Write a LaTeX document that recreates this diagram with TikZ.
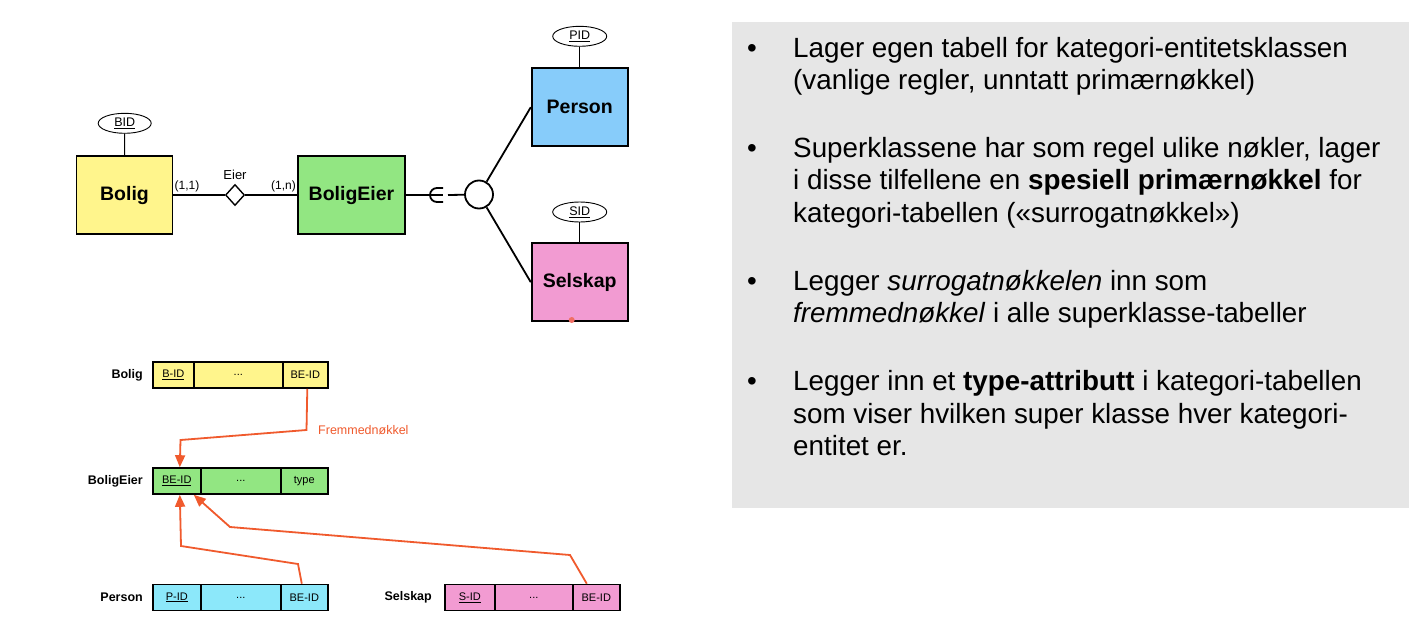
\documentclass[tikz,border=0pt]{standalone}
\usepackage{fontspec}
\setmainfont{Liberation Sans}
\usetikzlibrary{shapes.geometric,arrows.meta}
\definecolor{boligY}{RGB}{255,245,140}
\definecolor{eierG}{RGB}{146,230,130}
\definecolor{persB}{RGB}{135,204,250}
\definecolor{selP}{RGB}{242,155,210}
\definecolor{persC}{RGB}{140,232,250}
\definecolor{fkO}{RGB}{240,90,45}
\definecolor{panelG}{RGB}{230,230,230}
\definecolor{dotR}{RGB}{240,110,100}
\newcommand{\myfs}[1]{\fontsize{#1}{#1}\selectfont}
\begin{document}
\begin{tikzpicture}[x=1pt,y=-1pt,
  ent/.style={draw,line width=1.8pt,minimum width=96pt,minimum height=78pt,inner sep=0pt,font=\myfs{19.5}\bfseries},
  attr/.style={ellipse,draw,line width=0.9pt,minimum width=53pt,minimum height=20pt,inner sep=0pt,font=\myfs{12.5}},
  cell/.style={draw,line width=1.6pt,minimum height=26pt,inner sep=0pt,anchor=west,font=\myfs{11}},
  tlabel/.style={anchor=east,inner sep=0pt,font=\myfs{12.5}\bfseries},
  card/.style={inner sep=0pt,font=\myfs{12}},
  fk/.style={draw=fkO,line width=1.8pt,-{Triangle[length=12pt,width=10pt]}},
  lnk/.style={line width=1.8pt},
  thin/.style={line width=0.9pt},
  btxt/.style={anchor=base west,inner sep=0pt,font=\myfs{27.8}},
  bul/.style={anchor=base,inner sep=0pt,font=\myfs{27.8}},
]
\useasboundingbox (0,0) rectangle (1418,637);
\fill[white] (0,0) rectangle (1418,637);

% ---------- ER diagram ----------
\node[ent,fill=boligY] (bolig) at (124.5,195) {Bolig};
\node[ent,fill=eierG,minimum width=107pt] (eier) at (351.5,195) {BoligEier};
\node[ent,fill=persB] (person) at (579.7,107.2) {Person};
\node[ent,fill=selP] (selskap) at (579.7,282.2) {Selskap};

\node[attr] (bid) at (124.7,123.3) {\underline{BID}};
\node[attr,minimum width=54pt] (pid) at (579.7,36.3) {\underline{PID}};
\node[attr,minimum width=54pt] (sid) at (579.7,212) {\underline{SID}};
\draw[thin] (bid) -- (bolig);
\draw[thin] (pid) -- (person);
\draw[thin] (sid) -- (selskap);

\node[diamond,draw,line width=1.4pt,fill=white,minimum width=19pt,minimum height=21pt,inner sep=0pt] (rel) at (235,195) {};
\node[card,font=\myfs{13}] (eierlab) at (235,175) {Eier};
\node[card,anchor=south west] (c11) at (174.5,192) {(1,1)};
\node[card,anchor=south east] (c1n) at (296,192) {(1,n)};
\draw[lnk] (bolig) -- (rel);
\draw[lnk] (rel) -- (eier);

\coordinate (epsL) at (443,195);
\coordinate (epsR) at (448,195);
\node[circle,draw,line width=1.8pt,fill=white,minimum size=28pt,inner sep=0pt] (circ) at (479,194.5) {};
\draw[lnk] (eier.east) -- (epsL);
\draw[lnk] (epsR) -- (circ);
\draw[line width=1.8pt] (443,188) -- (437,188) arc[start angle=-90,end angle=-270,radius=7] -- (443,202);
\draw[lnk] (circ) -- (person.west);
\draw[lnk] (circ) -- (selskap.west);
\fill[dotR] (571.7,320) circle[radius=3];

% ---------- Tables ----------
\node[tlabel] (tbolig) at (143,375) {Bolig};
\node[cell,fill=boligY,minimum width=41pt] (bbid) at (152,375) {\underline{B-ID}};
\node[cell,fill=boligY,minimum width=89pt] (bdots) at (193,375) {...};
\node[cell,fill=boligY,minimum width=45pt] (bbeid) at (282,375) {BE-ID};

\node[tlabel] (teier) at (143,481) {BoligEier};
\node[cell,fill=eierG,minimum width=48pt] (ebeid) at (152,481) {\underline{BE-ID}};
\node[cell,fill=eierG,minimum width=80pt] (edots) at (200,481) {...};
\node[cell,fill=eierG,minimum width=47pt] (etype) at (280,481) {type};

\node[tlabel] (tperson) at (143,597.5) {Person};
\node[cell,fill=persC,minimum width=48pt] (ppid) at (152,597.5) {\underline{P-ID}};
\node[cell,fill=persC,minimum width=80pt] (pdots) at (200,597.5) {...};
\node[cell,fill=persC,minimum width=47pt] (pbeid) at (280,597.5) {BE-ID};

\node[tlabel] (tsel) at (432,597.5) {Selskap};
\node[cell,fill=selP,minimum width=50pt] (ssid) at (444,597.5) {\underline{S-ID}};
\node[cell,fill=selP,minimum width=78pt] (sdots) at (494,597.5) {...};
\node[cell,fill=selP,minimum width=47pt] (sbeid) at (572,597.5) {BE-ID};

% ---------- Foreign key arrows ----------
\draw[fk] ([xshift=2pt]bbeid.south) -- (306.5,430) -- (180.5,440) -- ([xshift=3pt]ebeid.north);
\node[anchor=west,inner sep=0pt,text=fkO,font=\myfs{12.5}] (fklab) at (318,430) {Fremmednøkkel};
\draw[fk] ([xshift=-2.5pt]pbeid.north) -- (298,564) -- (181,546) -- ([xshift=3pt]ebeid.south);
\draw[fk] ([xshift=-9.5pt]sbeid.north) -- (570,555) -- (230,527) -- ([xshift=17pt]ebeid.south);

% ---------- Text panel ----------
\fill[panelG] (732,22) rectangle (1409,508);
\node[bul] (b1) at (752,57) {•};
\node[btxt] (l11) at (793,57) {Lager egen tabell for kategori-entitetsklassen};
\node[btxt] (l12) at (793,89.5) {(vanlige regler, unntatt primærnøkkel)};
\node[bul] (b2) at (752,157) {•};
\node[btxt] (l21) at (793,157) {Superklassene har som regel ulike nøkler, lager};
\node[btxt] (l22) at (793,189.5) {i disse tilfellene en \textbf{spesiell primærnøkkel} for};
\node[btxt] (l23) at (793,222) {kategori-tabellen («surrogatnøkkel»)};
\node[bul] (b3) at (752,290) {•};
\node[btxt] (l31) at (793,290) {Legger \textit{surrogatnøkkelen} inn som};
\node[btxt] (l32) at (793,322.5) {\textit{fremmednøkkel} i alle superklasse-tabeller};
\node[bul] (b4) at (752,390.5) {•};
\node[btxt] (l41) at (793,390.5) {Legger inn et \textbf{type-attributt} i kategori-tabellen};
\node[btxt] (l42) at (793,423) {som viser hvilken super klasse hver kategori-};
\node[btxt] (l43) at (793,455.5) {entitet er.};
\end{tikzpicture}
\end{document}
